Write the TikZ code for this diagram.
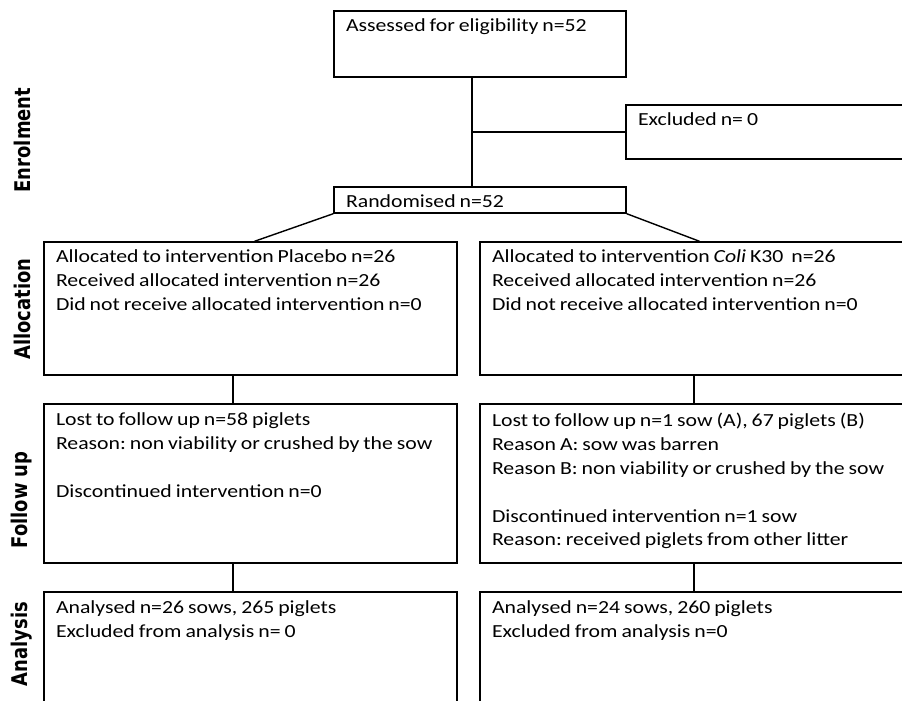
\documentclass[tikz,border=0pt]{standalone}
\usepackage{fontspec}
\setmainfont[FakeStretch=1.18,WordSpace=0.8]{Carlito}
\newfontfamily\sidefont[FakeStretch=0.83]{DejaVu Sans}
\usetikzlibrary{fit,calc}
\frenchspacing

\begin{document}
\begin{tikzpicture}[x=0.02cm, y=-0.02cm, line width=0.8pt,
    box/.style={draw, inner sep=0pt},
    txt/.style={anchor=north west, inner sep=0pt, align=left,
      font={\fontsize{10.5}{13.6}\selectfont}},
    side/.style={rotate=90, inner sep=0pt,
      font={\sidefont\bfseries\fontsize{12.3}{14}\selectfont}}]
  \useasboundingbox (0,0) rectangle (902,700);
  \clip (0,0) rectangle (902,700);

  % stage names
  \node[side] (enrol) at (22,140) {Enrolment};
  \node[side] (alloc) at (22,309) {Allocation};
  \node[side] (follow) at (22,500) {Follow up};
  \node[side] (anal) at (22,644) {Analysis};

  % boxes
  \node[box, fit={(334,11) (626,77)}] (assess) {};
  \node[box, fit={(626,105) (905,159)}] (excl) {};
  \node[box, fit={(334,187) (626,213)}] (rand) {};
  \node[box, fit={(44,242) (457,375)}] (lalloc) {};
  \node[box, fit={(480,242) (905,375)}] (ralloc) {};
  \node[box, fit={(44,404) (457,563)}] (lfollow) {};
  \node[box, fit={(480,404) (905,563)}] (rfollow) {};
  \node[box, fit={(44,592) (457,710)}] (lanal) {};
  \node[box, fit={(480,592) (905,710)}] (ranal) {};

  % texts
  \node[txt] (assess-t) at ($(assess.north west)+(12,8)$) {Assessed for eligibility n=52};
  \node[txt] (excl-t) at ($(excl.north west)+(12,8)$) {Excluded n= 0};
  \node[txt] (rand-t) at ($(rand.north west)+(12,8)$) {Randomised n=52};
  \node[txt] (lalloc-t) at ($(lalloc.north west)+(12,8)$)
    {Allocated to intervention Placebo n=26\\
     Received allocated intervention n=26\\
     Did not receive allocated intervention n=0};
  \node[txt] (ralloc-t) at ($(ralloc.north west)+(12,8)$)
    {Allocated to intervention \textit{Coli} K30\ \ n=26\\
     Received allocated intervention n=26\\
     Did not receive allocated intervention n=0};
  \node[txt] (lfollow-t) at ($(lfollow.north west)+(12,9)$)
    {Lost to follow up n=58 piglets\\
     Reason: non viability or crushed by the sow\\[13.6pt]
     Discontinued intervention n=0};
  \node[txt] (rfollow-t) at ($(rfollow.north west)+(12,9)$)
    {Lost to follow up n=1 sow (A), 67 piglets (B)\\
     Reason A: sow was barren\\
     Reason B: non viability or crushed by the sow\\[13.6pt]
     Discontinued intervention n=1 sow\\
     Reason: received piglets from other litter};
  \node[txt] (lanal-t) at ($(lanal.north west)+(12,9)$)
    {Analysed n=26 sows, 265 piglets\\
     Excluded from analysis n= 0};
  \node[txt] (ranal-t) at ($(ranal.north west)+(12,9)$)
    {Analysed n=24 sows, 260 piglets\\
     Excluded from analysis n=0};

  % connectors
  \coordinate (stem) at (472,0);
  \coordinate (lstem) at (233,0);
  \coordinate (rstem) at (694,0);
  \coordinate (junc) at (stem |- excl.west);
  \draw (assess.south -| stem) -- (rand.north -| stem);
  \draw (junc) -- (excl.west);
  \draw (rand.south west) -- ($(lalloc.north)+(4,0)$);
  \draw (rand.south east) -- ($(ralloc.north)+(7,0)$);
  \draw (lalloc.south -| lstem) -- (lfollow.north -| lstem);
  \draw (ralloc.south -| rstem) -- (rfollow.north -| rstem);
  \draw (lfollow.south -| lstem) -- (lanal.north -| lstem);
  \draw (rfollow.south -| rstem) -- (ranal.north -| rstem);
\end{tikzpicture}
\end{document}
